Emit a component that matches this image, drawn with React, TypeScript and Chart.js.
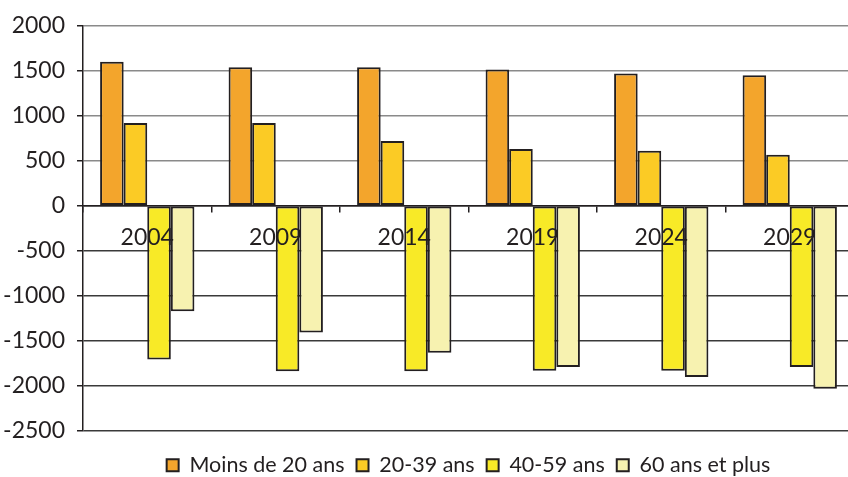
import React, { useEffect, useRef } from "react";
import { Chart, registerables } from "chart.js";

Chart.register(...registerables);

// Solde par tranche d'âge, par année
const years = ["2004", "2009", "2014", "2019", "2024", "2029"];
const moinsDe20 = [1600, 1540, 1540, 1515, 1470, 1450];
const de20a39 = [920, 920, 720, 630, 610, 565];
const de40a59 = [-1710, -1840, -1840, -1835, -1835, -1795];
const plusDe60 = [-1175, -1410, -1635, -1795, -1905, -2035];

const seriesNames = ["Moins de 20 ans", "20-39 ans", "40-59 ans", "60 ans et plus"];
const seriesColors = ["#F3A52C", "#FBCB25", "#F8EA27", "#F7F2B0"];

const yMin = -2500;
const yMax = 2000;
const yStep = 500;

const INK = "#231F20";
const FONT = "Lato";

export default function App() {
  const canvasRef = useRef<HTMLCanvasElement>(null);

  useEffect(() => {
    const canvas = canvasRef.current;
    if (!canvas) return;
    const values = [moinsDe20, de20a39, de40a59, plusDe60];

    const chart = new Chart(canvas, {
      type: "bar",
      data: {
        labels: years,
        datasets: values.map((v, i) => ({
          label: seriesNames[i],
          data: v,
          backgroundColor: seriesColors[i],
          borderColor: INK,
          borderWidth: 2,
          borderSkipped: false,
          categoryPercentage: 0.734,
          barPercentage: 1,
        })),
      },
      options: {
        animation: false,
        responsive: false,
        devicePixelRatio: 1,
        layout: { padding: { top: 10, right: 0, bottom: 0, left: 0 } },
        scales: {
          x: {
            // year labels sit just under the zero line, above the bars
            position: { y: 0 },
            grid: {
              drawOnChartArea: false,
              drawTicks: true,
              tickLength: 6,
              color: INK,
              lineWidth: 1.5,
            },
            border: { display: true, color: INK, width: 1.5, z: 1 },
            ticks: {
              z: 1,
              color: INK,
              font: { family: FONT, size: 23 },
              padding: 12,
              maxRotation: 0,
              autoSkip: false,
            },
          },
          y: {
            min: yMin,
            max: yMax,
            afterFit: (scale: any) => {
              scale.width = 83;
            },
            grid: {
              color: (ctx: any) => (ctx.tick && ctx.tick.value > 0 ? "#8a8a8a" : "#3a3a3a"),
              tickColor: INK,
              tickLength: 6,
              lineWidth: 1.5,
            },
            border: { display: true, color: INK, width: 1.5 },
            ticks: {
              stepSize: yStep,
              color: INK,
              font: { family: FONT, size: 23 },
              padding: 12,
              callback: (v: any) => String(v),
            },
          },
        },
        plugins: {
          legend: {
            position: "bottom",
            fullSize: false,
            // empty title row keeps the key clear of the plot
            title: { display: true, text: "", font: { size: 10 }, padding: 0 },
            labels: {
              boxWidth: 12,
              boxHeight: 12,
              padding: 12,
              color: INK,
              font: { family: FONT, size: 21.5 },
            },
          },
          tooltip: { enabled: false },
        },
      },
    });

    return () => chart.destroy();
  }, []);

  return (
    <div
      style={{
        position: "fixed",
        left: 0,
        top: 0,
        width: 848,
        height: 477,
        overflow: "hidden",
        background: "#ffffff",
      }}
    >
      <canvas ref={canvasRef} width={854} height={486} style={{ display: "block" }} />
    </div>
  );
}
